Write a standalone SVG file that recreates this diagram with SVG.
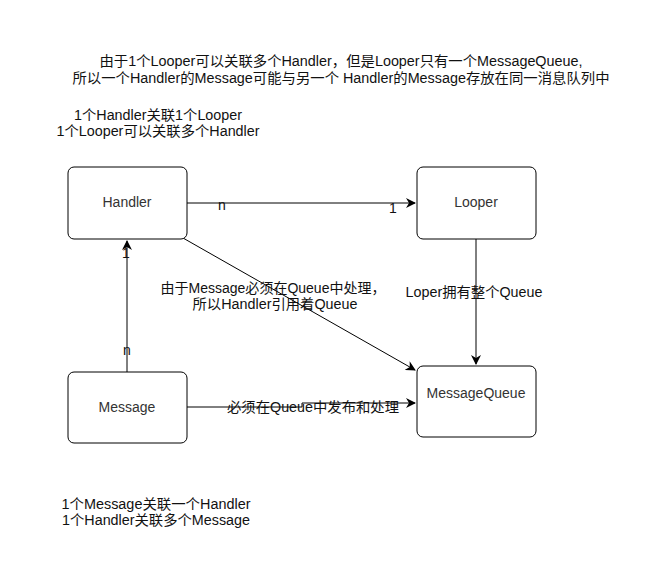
<svg xmlns="http://www.w3.org/2000/svg" width="668" height="582" viewBox="0 0 668 582">
<defs>
<style>
text{font-family:"Liberation Sans",Arial,"Noto Sans CJK SC",sans-serif;font-size:14px;fill:#111;}
.node rect{fill:#fff;stroke:#000;stroke-width:1;}
.node text{fill:#333;text-anchor:middle;font-size:14px;}
.edge{fill:none;stroke:#000;stroke-width:1;}
.lbl{text-anchor:middle;}
</style>
<marker id="arr" viewBox="0 0 10 10" refX="9" refY="5" markerWidth="10" markerHeight="10" markerUnits="userSpaceOnUse" orient="auto">
<path d="M0,0 L10,5 L0,10 L3,5 Z" fill="#000"/>
</marker>
</defs>
<rect width="668" height="582" fill="#fff"/>
<g id="notes">
<text class="lbl" x="341" y="66" textLength="483" lengthAdjust="spacingAndGlyphs">由于1个Looper可以关联多个Handler，但是Looper只有一个MessageQueue,</text>
<text class="lbl" x="341" y="83" textLength="537" lengthAdjust="spacingAndGlyphs">所以一个Handler的Message可能与另一个 Handler的Message存放在同一消息队列中</text>
<text class="lbl" x="158" y="120" textLength="168" lengthAdjust="spacingAndGlyphs">1个Handler关联1个Looper</text>
<text class="lbl" x="158" y="136" textLength="203" lengthAdjust="spacingAndGlyphs">1个Looper可以关联多个Handler</text>
<text class="lbl" x="156" y="509" textLength="189" lengthAdjust="spacingAndGlyphs">1个Message关联一个Handler</text>
<text class="lbl" x="156" y="525" textLength="188" lengthAdjust="spacingAndGlyphs">1个Handler关联多个Message</text>
</g>
<g id="connectors">
<path class="edge" d="M187,203 L415,203" marker-end="url(#arr)"/>
<text x="222" y="210" class="lbl">n</text>
<text x="393" y="213" class="lbl">1</text>
<path class="edge" d="M127,372 L127,241" marker-end="url(#arr)"/>
<text x="127" y="355" class="lbl">n</text>
<text x="126" y="258" class="lbl">1</text>
<path class="edge" d="M183,238 L415,370" marker-end="url(#arr)"/>
<text class="lbl" x="273" y="293" textLength="225" lengthAdjust="spacingAndGlyphs">由于Message必须在Queue中处理，</text>
<text class="lbl" x="275" y="309" textLength="165" lengthAdjust="spacingAndGlyphs">所以Handler引用着Queue</text>
<path class="edge" d="M476,239 L476,364" marker-end="url(#arr)"/>
<text class="lbl" x="474" y="297" textLength="137" lengthAdjust="spacingAndGlyphs">Loper拥有整个Queue</text>
<path class="edge" d="M187,407 L302,407 L302,403 L415,403" marker-end="url(#arr)"/>
<text class="lbl" x="313" y="412" textLength="172" lengthAdjust="spacingAndGlyphs">必须在Queue中发布和处理</text>
</g>
<g id="handler" class="node"><rect x="68" y="167" width="119" height="72" rx="6"/><text x="127" y="207">Handler</text></g>
<g id="looper" class="node"><rect x="417" y="167" width="119" height="72" rx="6"/><text x="476" y="207">Looper</text></g>
<g id="message" class="node"><rect x="68" y="372" width="119" height="71" rx="6"/><text x="127" y="412">Message</text></g>
<g id="messagequeue" class="node"><rect x="417" y="366" width="119" height="71" rx="6"/><text x="476" y="398">MessageQueue</text></g>
</svg>
